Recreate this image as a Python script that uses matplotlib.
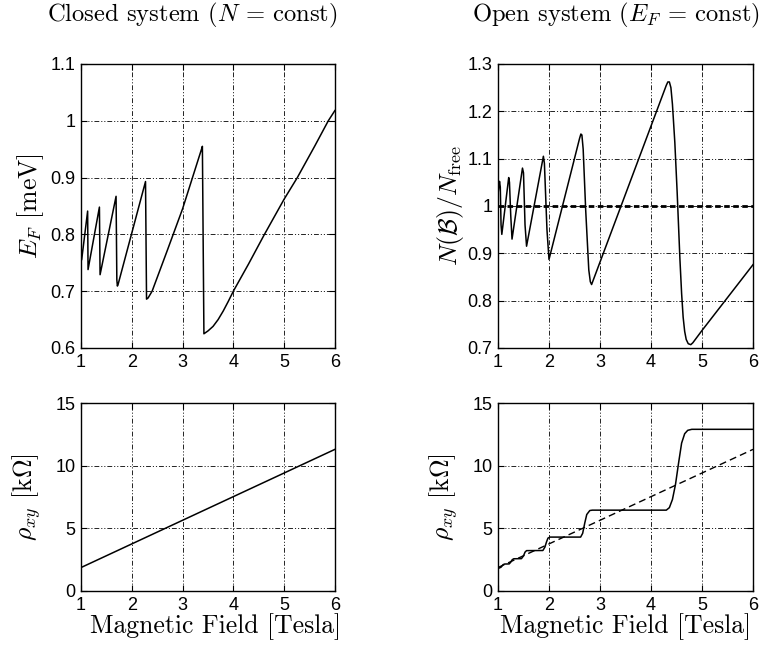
import matplotlib
matplotlib.use("Agg")
import matplotlib.pyplot as plt

plt.rcParams['font.family'] = ['Liberation Sans', 'DejaVu Sans']
plt.rcParams['mathtext.fontset'] = 'cm'
plt.rcParams['axes.unicode_minus'] = False
plt.rcParams['lines.scale_dashes'] = False

# closed system: Fermi energy [meV] vs B [T]
ef_B = [1.0, 1.012, 1.13, 1.138, 1.362, 1.375, 1.69, 1.705, 1.716, 1.73,
        2.27, 2.29, 2.32, 2.4, 2.7, 3.0, 3.38, 3.39, 3.42, 3.5, 3.6, 3.7, 3.8,
        3.9, 4.0, 4.3, 4.6, 5.0, 5.26, 5.6, 5.87, 6.0]
ef_E = [0.785, 0.755, 0.841, 0.738, 0.848, 0.729, 0.867, 0.72, 0.709, 0.712,
        0.893, 0.686, 0.688, 0.700, 0.772, 0.845, 0.952, 0.955, 0.625, 0.630, 0.638,
        0.650, 0.665, 0.682, 0.700, 0.748, 0.798, 0.862, 0.900, 0.955, 1.0, 1.018]

# open system: N(B)/N_free
n_B = [1.0, 1.03, 1.045, 1.06, 1.075, 1.21, 1.225, 1.25, 1.275,
       1.48, 1.50, 1.53, 1.56, 1.89, 1.91, 1.96, 2.0,
       2.6, 2.625, 2.645, 2.67, 2.72, 2.78, 2.81, 2.835,
       4.3, 4.33, 4.36, 4.39, 4.42, 4.467, 4.513, 4.567, 4.6, 4.63, 4.66,
       4.69, 4.73, 4.78, 4.82, 5.0, 6.0]
n_ratio = [1.025, 1.052, 1.04, 0.96, 0.94, 1.06, 1.05, 0.98, 0.93,
           1.08, 1.07, 0.96, 0.915, 1.105, 1.09, 0.95, 0.887,
           1.143, 1.152, 1.15, 1.12, 0.99, 0.865, 0.84, 0.834,
           1.255, 1.262, 1.262, 1.25, 1.215, 1.134, 1.028, 0.887, 0.815, 0.765, 0.735,
           0.718, 0.709, 0.707, 0.711, 0.737, 0.876]

# Hall resistance [kOhm]
rho_classic_B = [1.0, 6.0]
rho_classic = [1.87, 11.3]

rho_B = [1.0, 1.03, 1.06, 1.08, 1.1, 1.13, 1.22, 1.25, 1.28, 1.31, 1.46, 1.5,
         1.53, 1.56, 1.88, 1.92, 1.95, 1.98, 2.02, 2.62, 2.66, 2.7, 2.74,
         2.8, 2.85, 4.3, 4.36, 4.42, 4.48, 4.54, 4.6, 4.66, 4.72, 4.8, 4.9, 6.0]
rho_xy = [1.80, 1.84, 1.9, 2.0, 2.1, 2.15, 2.16, 2.3, 2.5, 2.57, 2.58, 2.8,
          3.1, 3.22, 3.23, 3.5, 3.9, 4.22, 4.3, 4.3, 4.6, 5.4, 6.1,
          6.42, 6.45, 6.45, 6.65, 7.3, 8.5, 10.2, 11.8, 12.55, 12.82, 12.9, 12.9, 12.9]

xticks = [1, 2, 3, 4, 5, 6]
ef_ticks = [0.6, 0.7, 0.8, 0.9, 1.0, 1.1]
ef_labels = ['0.6', '0.7', '0.8', '0.9', '1', '1.1']
n_ticks = [0.7, 0.8, 0.9, 1.0, 1.1, 1.2, 1.3]
n_labels = ['0.7', '0.8', '0.9', '1', '1.1', '1.2', '1.3']
rho_ticks = [0, 5, 10, 15]

GRID = (0, (3.5, 1.4, 0.8, 1.4, 0.8, 1.4))
SERIF = dict(family='cmr10', size=18.5)


def style(ax, yticks, ylabels, ylim):
    ax.set_xlim(1, 6)
    ax.set_ylim(*ylim)
    ax.set_xticks(xticks)
    ax.set_xticklabels([str(t) for t in xticks])
    ax.set_yticks(yticks)
    ax.set_yticklabels(ylabels)
    ax.tick_params(direction='in', length=4, width=0.8, top=True, right=True,
                   labelsize=13, pad=4)
    ax.grid(True, color='black', lw=0.6, linestyle=GRID)
    for s in ax.spines.values():
        s.set_linewidth(1.0)


fig = plt.figure(figsize=(7.74, 6.52), dpi=100)
ax1 = fig.add_axes([0.1047, 0.4663, 0.328, 0.4356])
ax2 = fig.add_axes([0.6434, 0.4663, 0.3295, 0.4356])
ax3 = fig.add_axes([0.1047, 0.0936, 0.328, 0.2883])
ax4 = fig.add_axes([0.6434, 0.0936, 0.3295, 0.2883])

ax1.plot(ef_B, ef_E, color='black', lw=1.1)
style(ax1, ef_ticks, ef_labels, (0.6, 1.1))
ax1.set_ylabel(r'$E_F$ [meV]', fontdict=SERIF, labelpad=3)

ax2.axhline(1.0, color='black', lw=2.0, linestyle=(0, (4, 2.5)))
ax2.plot(n_B, n_ratio, color='black', lw=1.1)
style(ax2, n_ticks, n_labels, (0.7, 1.3))
ax2.set_ylabel(r'$N(\mathcal{B})/N_{\mathrm{free}}$', fontdict=SERIF, labelpad=1)

ax3.plot(rho_classic_B, rho_classic, color='black', lw=1.1)
style(ax3, rho_ticks, [str(t) for t in rho_ticks], (0, 15))
ax3.set_ylabel(r'$\rho_{xy}$ [k$\Omega$]', fontdict=SERIF, labelpad=9)
ax3.set_xlabel('Magnetic Field [Tesla]', fontdict=SERIF, labelpad=0)
ax3.xaxis.label.set_x(0.53)

ax4.plot(rho_classic_B, rho_classic, color='black', lw=1.0, linestyle=(0, (5, 3)))
ax4.plot(rho_B, rho_xy, color='black', lw=1.1)
style(ax4, rho_ticks, [str(t) for t in rho_ticks], (0, 15))
ax4.set_ylabel(r'$\rho_{xy}$ [k$\Omega$]', fontdict=SERIF, labelpad=9)
ax4.set_xlabel('Magnetic Field [Tesla]', fontdict=SERIF, labelpad=0)

fig.text(0.248, 0.976, r'Closed system ($N$ = const)', ha='center', va='center',
         family='cmr10', size=17.7)
fig.text(0.796, 0.976, r'Open system ($E_F$ = const)', ha='center', va='center',
         family='cmr10', size=17.7)

fig.savefig('out.png', dpi=100)
